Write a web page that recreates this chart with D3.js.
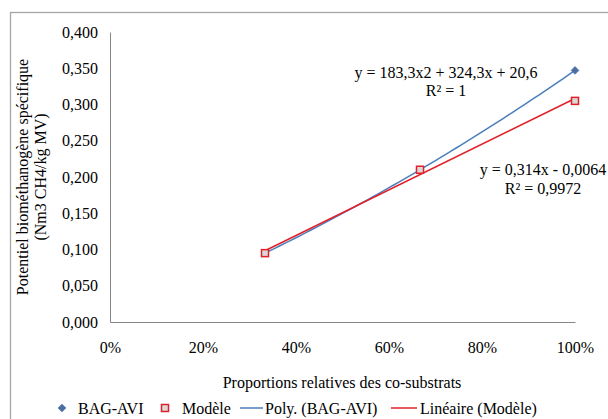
<!DOCTYPE html>
<html>
<head>
<meta charset="utf-8">
<script src="https://cdn.jsdelivr.net/npm/d3@7"></script>
<style>
  html, body { margin: 0; padding: 0; background: #fff; }
  svg { display: block; }
</style>
</head>
<body>
<svg id="chart" width="608" height="419" font-family="Liberation Serif"></svg>
<script>
// ---- data ----
const proportions = [1/3, 2/3, 1];
const bagAvi = [0.095, 0.210, 0.347];
const modele = [0.095, 0.210, 0.305];
const xTicks = [0, 0.2, 0.4, 0.6, 0.8, 1.0];
const yTicks = [0, 0.05, 0.10, 0.15, 0.20, 0.25, 0.30, 0.35, 0.40];
const polyEquation = ["y = 183,3x2 + 324,3x + 20,6", "R² = 1"];
const linEquation = ["y = 0,314x - 0,0064", "R² = 0,9972"];
const legendLabels = ["BAG-AVI", "Modèle", "Poly. (BAG-AVI)", "Linéaire (Modèle)"];
const xTitle = "Proportions relatives des co-substrats";
const yTitle = ["Potentiel biométhanogène spécifique", "(Nm3 CH4/kg MV)"];

const FONT = "Liberation Serif";
const blue = "#4A7EBB", diamondFill = "#4F6D9C", red = "#E3202A", sqFill = "#D9D9D9", axisCol = "#868686";

const svg = d3.select("#chart");
svg.append("rect").attr("x", 10.5).attr("y", 12.5).attr("width", 700).attr("height", 500)
  .attr("fill", "#fff").attr("stroke", "#A6A6A6").attr("stroke-width", 1.3);

const x = d3.scaleLinear().domain([0, 1]).range([110, 575]);
const y = d3.scaleLinear().domain([0, 0.4]).range([322, 32]);

const fmtY = v => d3.format(".3f")(v).replace(".", ",");
const fmtX = v => d3.format(".0%")(v);

// axes
const yAxis = svg.append("g").attr("transform", "translate(110,0)")
  .call(d3.axisLeft(y).tickValues(yTicks).tickFormat(fmtY).tickSize(0).tickPadding(12));
const xAxis = svg.append("g").attr("transform", "translate(0,322)")
  .call(d3.axisBottom(x).tickValues(xTicks).tickFormat(fmtX).tickSize(0).tickPadding(20));
[yAxis, xAxis].forEach(g => {
  g.attr("font-family", FONT).attr("font-size", 16);
  g.select(".domain").attr("stroke", axisCol).attr("stroke-width", 1);
  g.selectAll("text").attr("font-family", FONT).attr("font-size", 16).attr("fill", "#000");
});

// trendlines
function quadFit(xs, ys) {
  let S = [[0,0,0],[0,0,0],[0,0,0]], T = [0,0,0];
  xs.forEach((xi, i) => {
    const p = [1, xi, xi*xi];
    for (let r = 0; r < 3; r++) { T[r] += p[r]*ys[i]; for (let c = 0; c < 3; c++) S[r][c] += p[r]*p[c]; }
  });
  for (let i = 0; i < 3; i++) {
    for (let k = i+1; k < 3; k++) {
      const f = S[k][i]/S[i][i];
      for (let c = i; c < 3; c++) S[k][c] -= f*S[i][c];
      T[k] -= f*T[i];
    }
  }
  const b = [0,0,0];
  for (let i = 2; i >= 0; i--) {
    let s = T[i];
    for (let c = i+1; c < 3; c++) s -= S[i][c]*b[c];
    b[i] = s/S[i][i];
  }
  return v => b[0] + b[1]*v + b[2]*v*v;
}
function linFit(xs, ys) {
  const mx = d3.mean(xs), my = d3.mean(ys);
  const sxy = d3.sum(xs, (v, i) => (v-mx)*(ys[i]-my)), sxx = d3.sum(xs, v => (v-mx)*(v-mx));
  const b = sxy/sxx, a = my - b*mx;
  return v => a + b*v;
}
const qf = quadFit(proportions, bagAvi);
const lf = linFit(proportions, modele);
const x0 = d3.min(proportions), x1 = d3.max(proportions);
const samples = d3.range(0, 61).map(i => x0 + (x1-x0)*i/60);
const line = d3.line().x(d => x(d[0])).y(d => y(d[1]));
svg.append("path").attr("d", line(samples.map(v => [v, qf(v)])))
  .attr("fill", "none").attr("stroke", blue).attr("stroke-width", 1.5);
svg.append("path").attr("d", line([[x0, lf(x0)], [x1, lf(x1)]]))
  .attr("fill", "none").attr("stroke", red).attr("stroke-width", 1.5);

// markers
const diamond = d3.symbol().type(d3.symbolSquare).size(30);
svg.append("g").selectAll("path").data(proportions).join("path")
  .attr("d", diamond)
  .attr("transform", (d, i) => `translate(${x(d)},${y(bagAvi[i])}) rotate(45)`)
  .attr("fill", diamondFill).attr("stroke", blue).attr("stroke-width", 0.8);
svg.append("g").selectAll("rect").data(proportions).join("rect")
  .attr("x", d => x(d) - 3.5).attr("y", (d, i) => y(modele[i]) - 3.5)
  .attr("width", 7).attr("height", 7)
  .attr("fill", sqFill).attr("stroke", red).attr("stroke-width", 1.5);

// equations
function multiText(lines, cx, cy, dy) {
  const t = svg.append("text").attr("text-anchor", "middle").attr("font-family", FONT)
    .attr("font-size", 16).attr("fill", "#000");
  lines.forEach((s, i) => t.append("tspan").attr("x", cx).attr("y", cy + i*dy).attr("dominant-baseline", "central").text(s));
}
multiText(polyEquation, 446, 72, 18);
multiText(linEquation, 543, 169, 19);

// axis titles
svg.append("text").attr("x", 342).attr("y", 382).attr("dominant-baseline", "central")
  .attr("text-anchor", "middle").attr("font-family", FONT).attr("font-size", 16).text(xTitle);
const yt = svg.append("text").attr("transform", "translate(0,177) rotate(-90)")
  .attr("text-anchor", "middle").attr("font-family", FONT).attr("font-size", 16);
yt.append("tspan").attr("x", 0).attr("y", 22).attr("dominant-baseline", "central").text(yTitle[0]);
yt.append("tspan").attr("x", 0).attr("y", 40).attr("dominant-baseline", "central").text(yTitle[1]);

// legend
const ly = 408;
const lg = svg.append("g");
lg.append("path").attr("d", diamond).attr("transform", `translate(62,${ly}) rotate(45)`)
  .attr("fill", diamondFill).attr("stroke", blue).attr("stroke-width", 0.8);
lg.append("rect").attr("x", 165 - 3.5).attr("y", ly - 3.5).attr("width", 7).attr("height", 7)
  .attr("fill", sqFill).attr("stroke", red).attr("stroke-width", 1.5);
lg.append("line").attr("x1", 240).attr("x2", 263).attr("y1", ly).attr("y2", ly).attr("stroke", blue).attr("stroke-width", 1.5);
lg.append("line").attr("x1", 391).attr("x2", 417).attr("y1", ly).attr("y2", ly).attr("stroke", red).attr("stroke-width", 1.5);
const lx = [78, 182, 265, 420];
legendLabels.forEach((s, i) => lg.append("text").attr("x", lx[i]).attr("y", ly)
  .attr("dominant-baseline", "central").attr("font-family", FONT).attr("font-size", 16).text(s));
</script>
</body>
</html>
